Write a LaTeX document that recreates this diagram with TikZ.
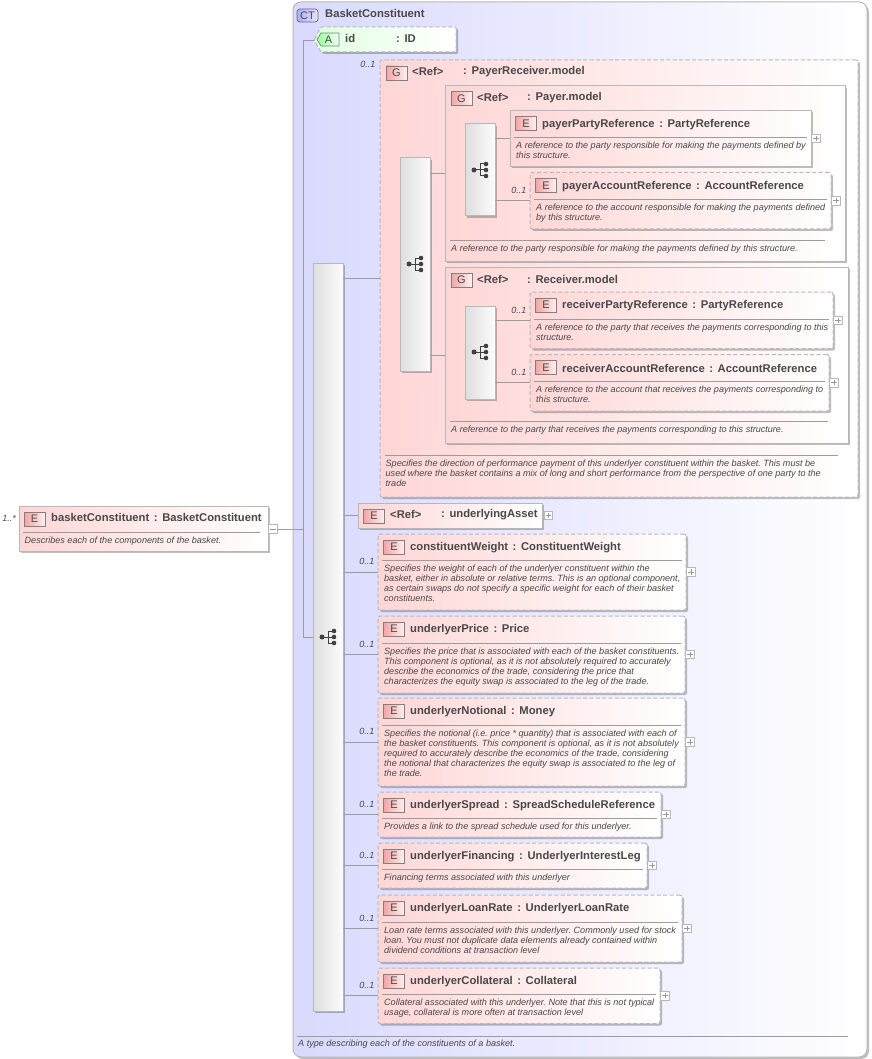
\documentclass[tikz,border=0pt]{standalone}
\usepackage{fontspec}
\setmainfont{Liberation Sans}
\usetikzlibrary{shadows,calc}
\frenchspacing
\definecolor{txt}{HTML}{484848}
\definecolor{lin}{HTML}{9C9C9C}
\definecolor{edgec}{HTML}{B8B8B8}
\definecolor{pinkc}{HTML}{FFD6D6}
\definecolor{bluec}{HTML}{D9D9FF}
\definecolor{bdgl}{HTML}{F4A4A4}
\definecolor{bdgr}{HTML}{FFF0F0}
\tikzset{
  x=1pt,y=-1pt,
  conn/.style={draw=lin,line width=0.8pt},
  sepl/.style={draw=lin,line width=0.8pt},
  shd/.style={drop shadow={shadow xshift=2pt,shadow yshift=-2pt,fill=black,opacity=.25}},
  boxbase/.style={rectangle,anchor=north west,inner sep=0pt,outer sep=0pt,left color=pinkc,right color=white,shd},
  solidbox/.style={boxbase,draw=edgec,line width=1pt},
  dashbox/.style={boxbase,draw=edgec,line width=1pt,dash pattern=on 4pt off 2.4pt,rounded corners=2pt},
  seqblock/.style={rectangle,anchor=north west,inner sep=0pt,outer sep=0pt,draw=edgec,line width=1pt,left color=black!13,right color=black!1,shd},
  badgebox/.style={rectangle,anchor=north west,inner sep=0pt,outer sep=0pt,minimum width=21pt,minimum height=14pt,draw=black!50,line width=.7pt,left color=bdgl,right color=bdgr,text=txt,font=\fontsize{11}{12}\selectfont},
  titl/.style={anchor=west,inner sep=0pt,text=txt,font=\fontsize{11.25}{13}\selectfont\bfseries},
  descr/.style={anchor=north west,inner sep=0pt,align=left,text=txt,font=\fontsize{9.06}{10}\selectfont\itshape},
  multi/.style={anchor=east,inner sep=0pt,text=txt,font=\fontsize{9}{10}\selectfont\itshape},
  plusbox/.style={rectangle,inner sep=0pt,outer sep=0pt,minimum width=8.5pt,minimum height=8.5pt,draw=edgec,line width=.7pt,fill=white,
    path picture={\draw[black!40,line width=.6pt] ([xshift=1.7pt]path picture bounding box.west) -- ([xshift=-1.7pt]path picture bounding box.east);
      \draw[black!40,line width=.6pt] ([yshift=1.7pt]path picture bounding box.south) -- ([yshift=-1.7pt]path picture bounding box.north);}},
  minusbox/.style={rectangle,inner sep=0pt,outer sep=0pt,minimum width=8.5pt,minimum height=8.5pt,draw=edgec,line width=.7pt,fill=white,
    path picture={\draw[black!40,line width=.6pt] ([xshift=1.7pt]path picture bounding box.west) -- ([xshift=-1.7pt]path picture bounding box.east);}},
}
\newcommand{\cln}{\hspace{4.6pt}:\hspace{4.6pt}}
% id, style, x1, y1, x2, y2
\newcommand{\bx}[6]{\node[#2,minimum width={(#5-#3)*1pt},minimum height={(#6-#4)*1pt}] (#1) at (#3,#4) {};}
\newcommand{\bdg}[4]{\node[badgebox] (#1) at (#2,#3) {#4};}
\newcommand{\ttl}[4]{\node[titl] (#1) at (#2,#3+0.8) {#4};}
\newcommand{\dsc}[4]{\node[descr] (#1) at (#2,#3-3.5) {#4};}
\newcommand{\sepr}[3]{\draw[sepl] (#1,#3) -- (#2,#3);}
% sequence block with its icon: id, x1, y1, y2, icon y
\newcommand{\sq}[5]{\bx{#1}{seqblock}{#2}{#3}{#2+30}{#4}
  \coordinate (#1-l) at (#2+9,#5); \coordinate (#1-m) at (#2+15,#5); \coordinate (#1-r) at (#2+21,#5);
  \draw[black!75,line width=1pt] (#1-l) -- (#1-r);
  \draw[black!75,line width=1pt] ($(#1-m)+(6,-6)$) -- ($(#1-m)+(0,-6)$) -- ($(#1-m)+(0,6)$) -- ($(#1-m)+(6,6)$);
  \fill[black!75] (#1-l) circle (2.5pt) (#1-r) circle (2.3pt) ($(#1-r)+(0,-6)$) circle (2.3pt) ($(#1-r)+(0,6)$) circle (2.3pt);}
% element: id, style, seq, x1, y1, x2, y2, sep y, title
\newcommand{\elem}[9]{\bx{#1}{#2}{#4}{#5}{#6}{#7}
  \draw[conn] (#3.east |- #1.west) -- (#1.west);
  \bdg{#1-b}{#4+5.5}{#5+6}{E}
  \ttl{#1-t}{#4+32}{#5+13}{#9}
  \sepr{#4+4}{#6-4}{#8}
  \node[plusbox] (#1-p) at ([xshift=5pt]#1.east) {};
  \def\dx{#4}\def\dy{#8}}
\newcommand{\edsc}[2]{\dsc{#1-d}{\dx+6}{\dy+8}{#2}}
\newcommand{\mlt}[2]{\node[multi] (#1-m) at ([xshift=-3.5pt,yshift=10.2pt]#1.west) {#2};}
\begin{document}
\begin{tikzpicture}
\useasboundingbox (0,0) rectangle (871,1059);
\fill[white] (0,0) rectangle (871,1059);
% complex type
\node[rectangle,anchor=north west,inner sep=0pt,outer sep=0pt,minimum width=574pt,minimum height=1055pt,rounded corners=8pt,draw=edgec,line width=1pt,left color=bluec,right color=white,shd] (ct) at (293,2) {};
\node[rectangle,anchor=north west,inner sep=0pt,outer sep=0pt,minimum width=21pt,minimum height=13pt,rounded corners=3pt,draw=black!60,line width=.7pt,left color=bluec!80!blue,right color=bluec!70!white,text=txt,font=\fontsize{11}{12}\selectfont] (ct-b) at (297,9) {CT};
\ttl{ct-t}{325}{12.7}{BasketConstituent}
\sepr{297}{848}{1036}
\dsc{ct-d}{298}{1043.5}{A type describing each of the constituents of a basket.}
% attribute
\coordinate (idtip) at (314,40);
\coordinate (bustop) at (303,40);
\coordinate (busbot) at (303,637);
\draw[draw=edgec,line width=1pt,dash pattern=on 4pt off 2.4pt,left color=green!12!white,right color=white,shd,rounded corners=1pt] (idtip) -- (321,27) -- (456,27) -- (456,52) -- (321,52) -- cycle;
\draw[draw=black!50,line width=.7pt,left color=green!40!white,right color=green!5!white] (317,39.5) -- (321,33) -- (339,33) -- (339,46) -- (321,46) -- cycle;
\node[inner sep=0pt,text=txt,font=\fontsize{11}{12}\selectfont] (id-b) at (328.5,39.7) {A};
\ttl{id-t}{345}{38}{id}
\ttl{id-c}{396}{38}{:\hspace{4.6pt}ID}
% main sequence
\sq{seq}{313}{263}{1011}{637}
\draw[conn] (idtip) -- (bustop) -- (busbot) -- (seq.west |- busbot);
% payer-receiver group
\bx{prg}{dashbox}{380}{60}{858}{497}
\draw[conn] (seq.east |- prg.west) -- (prg.west);
\node[multi] (prg-m) at (375.5,64.5) {0..1};
\bdg{prg-b}{386}{66}{G}
\ttl{prg-t}{412}{71}{<Ref>}
\ttl{prg-c}{463}{71}{:\hspace{4.6pt}PayerReceiver.model}
\sepr{385}{838}{455}
\dsc{prg-d}{385.5}{463}{Specifies the direction of performance payment of this underlyer constituent within the basket. This must be\\used where the basket contains a mix of long and short performance from the perspective of one party to the\\trade}
\sq{sq2}{400}{158}{371}{264}
% payer group
\bx{pay}{solidbox}{445}{86}{845}{261}
\draw[conn] (sq2.east |- 445,173) -- (445,173);
\bdg{pay-b}{451}{91.5}{G}
\ttl{pay-t}{477}{97}{<Ref>}
\ttl{pay-c}{527}{97}{:\hspace{4.6pt}Payer.model}
\sepr{450}{825}{240.5}
\dsc{pay-d}{451}{248}{A reference to the party responsible for making the payments defined by this structure.}
\sq{sq3}{465}{124}{216}{170}
\elem{ppr}{solidbox}{sq3}{510}{110.5}{811}{166.5}{137}{payerPartyReference\cln PartyReference}
\edsc{ppr}{A reference to the party responsible for making the payments defined by\\this structure.}
\elem{par}{dashbox}{sq3}{530}{172.5}{831}{229}{199}{payerAccountReference\cln AccountReference}
\edsc{par}{A reference to the account responsible for making the payments defined\\by this structure.}
\mlt{par}{0..1}
% receiver group
\bx{rcv}{solidbox}{445}{267}{848}{443}
\draw[conn] (sq2.east |- 445,355) -- (445,355);
\bdg{rcv-b}{451}{273}{G}
\ttl{rcv-t}{477}{279}{<Ref>}
\ttl{rcv-c}{527}{279}{:\hspace{4.6pt}Receiver.model}
\sepr{450}{828}{421.5}
\dsc{rcv-d}{451}{429.5}{A reference to the party that receives the payments corresponding to this structure.}
\sq{sq4}{465}{306}{399}{352}
\elem{rpr}{dashbox}{sq4}{530}{292}{833}{348.5}{319}{receiverPartyReference\cln PartyReference}
\edsc{rpr}{A reference to the party that receives the payments corresponding to this\\structure.}
\mlt{rpr}{0..1}
\elem{rar}{dashbox}{sq4}{530}{354.5}{829}{411}{381}{receiverAccountReference\cln AccountReference}
\edsc{rar}{A reference to the account that receives the payments corresponding to\\this structure.}
\mlt{rar}{0..1}
% underlying asset
\bx{ua}{solidbox}{358}{503}{542}{528}
\draw[conn] (seq.east |- ua.west) -- (ua.west);
\bdg{ua-b}{363.5}{509}{E}
\ttl{ua-t}{390}{514}{<Ref>}
\ttl{ua-c}{441}{514}{:\hspace{4.6pt}underlyingAsset}
\node[plusbox] (ua-p) at ([xshift=6.5pt]ua.east) {};
% optional elements
\elem{cw}{dashbox}{seq}{378}{534}{686}{610}{560}{constituentWeight\cln ConstituentWeight}
\edsc{cw}{Specifies the weight of each of the underlyer constituent within the\\basket, either in absolute or relative terms. This is an optional component,\\as certain swaps do not specify a specific weight for each of their basket\\constituents.}
\mlt{cw}{0..1}
\elem{up}{dashbox}{seq}{378}{616}{685}{693}{643}{underlyerPrice\cln Price}
\edsc{up}{Specifies the price that is associated with each of the basket constituents.\\This component is optional, as it is not absolutely required to accurately\\describe the economics of the trade, considering the price that\\characterizes the equity swap is associated to the leg of the trade.}
\mlt{up}{0..1}
\elem{un}{dashbox}{seq}{378}{698}{685}{786}{725}{underlyerNotional\cln Money}
\edsc{un}{Specifies the notional (i.e. price * quantity) that is associated with each of\\the basket constituents. This component is optional, as it is not absolutely\\required to accurately describe the economics of the trade, considering\\the notional that characterizes the equity swap is associated to the leg of\\the trade.}
\mlt{un}{0..1}
\elem{us}{dashbox}{seq}{378}{792}{661}{837}{818}{underlyerSpread\cln SpreadScheduleReference}
\edsc{us}{Provides a link to the spread schedule used for this underlyer.}
\mlt{us}{0..1}
\elem{uf}{dashbox}{seq}{378}{843}{647}{888}{869}{underlyerFinancing\cln UnderlyerInterestLeg}
\edsc{uf}{Financing terms associated with this underlyer}
\mlt{uf}{0..1}
\elem{ul}{dashbox}{seq}{378}{895}{682}{962}{922}{underlyerLoanRate\cln UnderlyerLoanRate}
\edsc{ul}{Loan rate terms associated with this underlyer. Commonly used for stock\\loan. You must not duplicate data elements already contained within\\dividend conditions at transaction level}
\mlt{ul}{0..1}
\elem{uc}{dashbox}{seq}{378}{968}{660}{1023.5}{994}{underlyerCollateral\cln Collateral}
\edsc{uc}{Collateral associated with this underlyer. Note that this is not typical\\usage, collateral is more often at transaction level}
\mlt{uc}{0..1}
% root element
\bx{root}{solidbox}{19}{506}{268}{551}
\bdg{root-b}{24}{512}{E}
\ttl{root-t}{51}{517}{basketConstituent\cln BasketConstituent}
\sepr{23}{260}{532}
\dsc{root-d}{24.5}{540}{Describes each of the components of the basket.}
\node[multi] (root-m) at (16,518) {1..*};
\node[minusbox] (root-p) at (273,529) {};
\draw[conn] (root-p.east) -- (busbot |- root-p.east);
\end{tikzpicture}
\end{document}
